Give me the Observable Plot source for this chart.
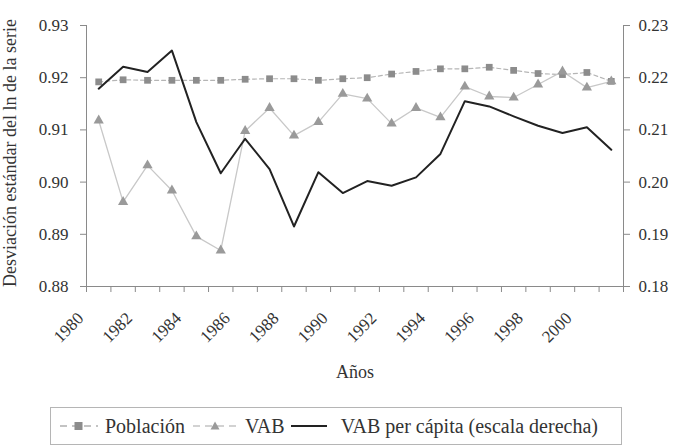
<!DOCTYPE html>
<html><head><meta charset="utf-8">
<script src="https://cdn.jsdelivr.net/npm/d3@7"></script>
<script src="https://cdn.jsdelivr.net/npm/@observablehq/plot@0.6"></script>
<style>
body{margin:0;background:#fff;font-family:'Liberation Serif','Times New Roman',serif;}
#legend{position:absolute;left:50px;top:407px;width:570px;height:36px;border:1px solid #b5b5b5;display:flex;align-items:center;font-family:'Liberation Serif','Times New Roman',serif;font-size:20px;color:#333;box-sizing:content-box;white-space:nowrap;}
#legend svg{flex:none;}
</style></head><body>
<div id="chart"></div>
<div id="legend">
  <svg width="38" height="14" style="margin-left:9px;margin-right:7px"><line x1="0" y1="7" x2="38" y2="7" stroke="#b0b0b0" stroke-dasharray="7,5" stroke-width="1.3"/><rect x="14.5" y="3" width="8" height="8" fill="#8c8c8c"/></svg>
  <span>Población</span>
  <svg width="44" height="14" style="margin-left:8px;margin-right:8px"><line x1="0" y1="7" x2="44" y2="7" stroke="#c4c4c4" stroke-dasharray="7,5" stroke-width="1.3"/><path d="M22,2.5 L26.5,10.5 L17.5,10.5Z" fill="#9a9a9a"/></svg>
  <span>VAB</span>
  <svg width="36" height="14" style="margin-left:6px;margin-right:14px"><line x1="0" y1="7" x2="36" y2="7" stroke="#222" stroke-width="2"/></svg>
  <span>VAB per cápita (escala derecha)</span>
</div>
<script>
const years = [1980,1981,1982,1983,1984,1985,1986,1987,1988,1989,1990,1991,1992,1993,1994,1995,1996,1997,1998,1999,2000,2001];
const yearLabels = [1980,1982,1984,1986,1988,1990,1992,1994,1996,1998,2000];
const poblacion = [0.9192,0.9196,0.9195,0.9195,0.9195,0.9195,0.9197,0.9198,0.9198,0.9195,0.9198,0.9200,0.9207,0.9212,0.9217,0.9217,0.9220,0.9214,0.9208,0.9206,0.9210,0.9193];
const vab = [0.9118,0.8962,0.9032,0.8984,0.8896,0.8869,0.9098,0.9142,0.9089,0.9115,0.9169,0.9160,0.9112,0.9142,0.9124,0.9183,0.9164,0.9162,0.9187,0.9212,0.9181,0.9193];
const vabPerCapita = [0.2179,0.2221,0.2211,0.2252,0.2115,0.2017,0.2083,0.2025,0.1915,0.2019,0.1979,0.2002,0.1993,0.2009,0.2054,0.2155,0.2145,0.2126,0.2108,0.2094,0.2105,0.2062];
const leftTicks = [0.88,0.89,0.90,0.91,0.92,0.93];
const rightTicks = [0.18,0.19,0.20,0.21,0.22,0.23];
const rightOffset = 0.70; // right scale = left scale - 0.70

const data = years.map((y,i)=>({year:y, pob:poblacion[i], vab:vab[i], pc:vabPerCapita[i]}));
const boundaries = years.map(y=>y-0.5).concat([years[years.length-1]+0.5]);
const xDomain = [boundaries[0], boundaries[boundaries.length-1]];
const FONT = "'Liberation Serif','Times New Roman',serif";

const chart = Plot.plot({
  width:676, height:400,
  marginLeft:86, marginRight:53, marginTop:25, marginBottom:114,
  style:{fontFamily:FONT, fontSize:"17px", color:"#333", background:"white"},
  x:{domain:xDomain},
  y:{domain:[leftTicks[0], leftTicks[leftTicks.length-1]]},
  marks:[
    Plot.ruleY([leftTicks[0]], {stroke:"#8a8a8a"}),
    Plot.ruleX([xDomain[0]], {stroke:"#8a8a8a"}),
    Plot.ruleX([xDomain[1]], {stroke:"#8a8a8a"}),
    Plot.axisY({ticks:leftTicks, tickFormat:d=>d.toFixed(2), tickSize:6, tickPadding:12, label:null, stroke:"#8a8a8a", fill:"#333", fontSize:17, fontFamily:FONT}),
    Plot.axisY({anchor:"right", ticks:rightTicks.map(v=>v+rightOffset), tickFormat:d=>(d-rightOffset).toFixed(2), tickSize:6, tickPadding:9, label:null, stroke:"#8a8a8a", fill:"#333", fontSize:17, fontFamily:FONT}),
    Plot.axisX({ticks:boundaries, tickSize:6, tickFormat:()=>"", label:null, stroke:"#8a8a8a"}),
    Plot.axisX({ticks:yearLabels, tickSize:0, tickPadding:29, tickRotate:-45, dx:-18, tickFormat:d=>String(d), label:null, fill:"#333", fontSize:17, fontFamily:FONT}),
    Plot.line(data, {x:"year", y:"pob", stroke:"#b5b5b5", strokeWidth:1.2, strokeDasharray:"4,3"}),
    Plot.dot(data, {x:"year", y:"pob", symbol:"square", r:3.8, fill:"#8c8c8c", stroke:"none"}),
    Plot.line(data, {x:"year", y:"vab", stroke:"#c8c8c8", strokeWidth:1.3}),
    Plot.dot(data, {x:"year", y:"vab", symbol:"triangle", r:3.8, fill:"#9a9a9a", stroke:"none"}),
    Plot.line(data, {x:"year", y:d=>d.pc+rightOffset, stroke:"#222", strokeWidth:2}),
    Plot.text(["Años"], {frameAnchor:"bottom", dy:91, fontSize:18, fill:"#333"}),
    Plot.text(["Desviación estándar del ln de la serie"], {frameAnchor:"left", textAnchor:"middle", rotate:-90, dx:-76, dy:-3, fontSize:18, fill:"#333"})
  ]
});
document.getElementById("chart").appendChild(chart);
</script>
</body></html>
